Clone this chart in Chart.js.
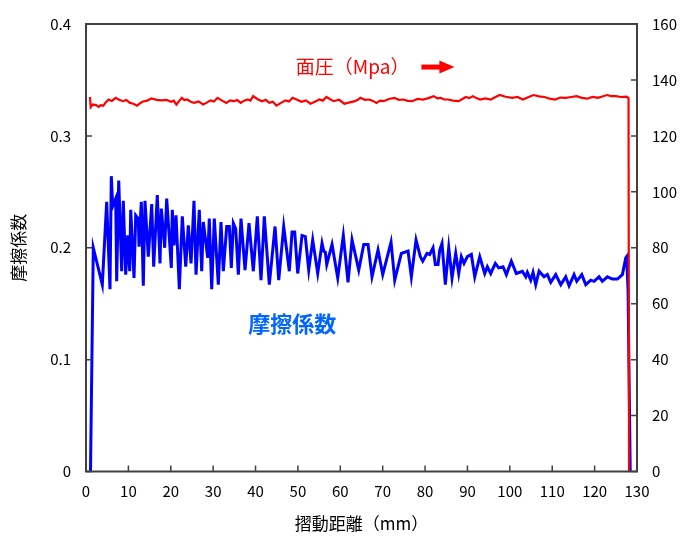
<!DOCTYPE html>
<html lang="ja">
<head>
<meta charset="utf-8">
<title>摩擦係数と面圧</title>
<script src="https://cdn.jsdelivr.net/npm/chart.js@4.4.1/dist/chart.umd.min.js"></script>
<style>
    html, body { margin: 0; padding: 0; background: #fff; }
    #chart { display: block; }
</style>
</head>
<body>
<canvas id="chart" width="683" height="537"></canvas>
<script>
// 摩擦係数 (左軸)
const frictionDistance = [
    1.06, 1.72, 3.85, 4.88, 5.66, 5.97, 6.30, 7.01, 7.24, 7.72,
    8.42, 8.80, 9.37, 9.84, 10.31, 10.55, 11.33, 11.73, 12.34, 12.51,
    13.05, 13.52, 13.92, 14.70, 15.50, 15.97, 16.82, 17.46, 17.77, 18.57,
    19.04, 20.13, 20.36, 20.76, 21.24, 22.02, 22.72, 23.53, 24.14, 24.78,
    25.48, 25.96, 26.73, 27.30, 27.68, 28.72, 29.09, 29.66, 30.27, 31.22,
    31.85, 32.40, 33.20, 33.81, 34.29, 34.76, 35.32, 35.94, 36.57, 37.52,
    38.46, 39.48, 40.42, 41.29, 42.07, 43.25, 44.60, 45.47, 46.65, 47.97,
    48.61, 49.24, 49.95, 50.97, 51.75, 52.55, 53.49, 54.67, 55.69, 56.09,
    56.47, 56.80, 58.05, 59.39, 60.71, 61.82, 62.77, 64.35, 65.53, 66.54,
    67.48, 68.90, 70.01, 71.97, 72.84, 74.40, 75.98, 76.76, 77.87, 78.88,
    79.45, 80.46, 81.10, 81.88, 82.42, 83.06, 83.46, 84.00, 84.78, 85.58,
    86.36, 87.23, 87.94, 88.56, 89.19, 89.97, 90.92, 91.72, 92.90, 94.08,
    94.69, 95.49, 96.58, 97.38, 98.40, 99.18, 100.35, 101.53, 102.95, 103.75,
    104.13, 104.93, 105.47, 106.11, 106.89, 108.07, 108.85, 109.65, 110.83, 112.01,
    113.19, 113.97, 115.15, 115.79, 116.97, 117.91, 119.09, 119.87, 121.05, 121.83,
    123.01, 124.19, 125.37, 126.55, 127.35, 127.54, 127.89, 128.40
];
const frictionValues = [
    0, 0.200, 0.167, 0.241, 0.163, 0.264, 0.237, 0.244, 0.170, 0.260,
    0.179, 0.242, 0.176, 0.211, 0.179, 0.234, 0.173, 0.229, 0.226, 0.201,
    0.241, 0.166, 0.242, 0.192, 0.239, 0.183, 0.247, 0.186, 0.235, 0.200,
    0.244, 0.182, 0.234, 0.202, 0.229, 0.163, 0.228, 0.183, 0.220, 0.186,
    0.242, 0.176, 0.234, 0.179, 0.223, 0.191, 0.226, 0.163, 0.226, 0.167,
    0.223, 0.179, 0.219, 0.219, 0.182, 0.222, 0.217, 0.176, 0.226, 0.180,
    0.222, 0.179, 0.228, 0.171, 0.228, 0.167, 0.219, 0.171, 0.219, 0.179,
    0.214, 0.214, 0.177, 0.211, 0.210, 0.180, 0.207, 0.177, 0.204, 0.197,
    0.196, 0.185, 0.203, 0.173, 0.211, 0.169, 0.207, 0.180, 0.203, 0.203,
    0.174, 0.198, 0.176, 0.205, 0.171, 0.195, 0.197, 0.174, 0.207, 0.192,
    0.188, 0.195, 0.194, 0.200, 0.185, 0.185, 0.198, 0.204, 0.167, 0.200,
    0.173, 0.195, 0.177, 0.192, 0.186, 0.192, 0.194, 0.174, 0.192, 0.177,
    0.183, 0.177, 0.186, 0.182, 0.183, 0.176, 0.188, 0.177, 0.179, 0.174,
    0.178, 0.171, 0.178, 0.167, 0.179, 0.174, 0.176, 0.169, 0.176, 0.167,
    0.174, 0.166, 0.176, 0.170, 0.176, 0.167, 0.171, 0.170, 0.174, 0.170,
    0.174, 0.172, 0.172, 0.176, 0.191, 0.192, 0.162, 0
];

// 面圧 (右軸, MPa)
const pressureDistance = [
    0.94, 1.11, 1.6, 2.36, 3.0, 3.5, 4.06, 4.7, 5.33, 6.1,
    7.01, 7.8, 8.71, 9.5, 10.38, 11.2, 12.06, 12.7, 13.33, 14.4,
    15.43, 16.7, 17.93, 19.0, 20.06, 20.7, 21.33, 22.0, 22.61, 23.2,
    23.86, 24.7, 25.55, 26.6, 27.65, 28.5, 29.35, 30.2, 31.03, 32.1,
    33.13, 34.0, 34.83, 35.7, 36.5, 37.3, 38.2, 38.8, 39.45, 40.5,
    41.55, 42.4, 43.25, 44.1, 44.93, 46.0, 47.05, 47.9, 48.73, 49.8,
    50.83, 51.9, 52.95, 54.0, 55.05, 55.9, 56.73, 57.6, 58.42, 59.7,
    60.95, 62.2, 63.47, 64.1, 64.75, 65.8, 66.85, 67.7, 68.52, 69.4,
    70.22, 71.5, 72.75, 73.8, 74.85, 75.9, 76.95, 78.2, 79.5, 80.8,
    82.02, 82.9, 83.7, 84.5, 85.39, 86.6, 87.92, 88.8, 89.59, 90.4,
    91.29, 92.1, 92.97, 94.2, 95.49, 96.5, 97.59, 99.0, 100.54, 101.8,
    103.09, 104.3, 105.61, 106.9, 108.14, 109.4, 110.67, 111.9, 113.19, 114.5,
    115.72, 117.0, 118.24, 119.5, 120.79, 121.8, 122.89, 123.9, 124.99, 126.2,
    127.51, 128.0, 128.13
];
const pressureValues = [
    133.9, 130.3, 131.2, 131.0, 130.4, 131.0, 130.8, 132.0, 133.0, 132.5,
    133.6, 132.9, 132.4, 132.8, 131.8, 131.5, 130.8, 131.6, 132.2, 132.6,
    133.4, 132.9, 132.7, 132.9, 132.2, 132.6, 131.2, 132.5, 133.6, 132.8,
    133.0, 132.2, 131.8, 132.3, 131.2, 131.9, 132.7, 132.3, 133.6, 132.6,
    131.8, 132.7, 132.4, 132.8, 131.8, 132.6, 133.0, 132.6, 134.2, 133.1,
    132.4, 132.9, 131.8, 132.2, 130.8, 131.8, 132.7, 132.3, 133.6, 132.9,
    132.2, 132.7, 131.5, 132.2, 133.0, 132.6, 133.9, 133.1, 132.4, 132.9,
    131.5, 132.0, 132.4, 132.9, 133.6, 132.9, 133.0, 132.5, 131.8, 132.6,
    132.4, 133.2, 133.6, 132.9, 133.0, 132.5, 132.4, 133.2, 133.0, 133.5,
    134.2, 133.4, 133.6, 133.0, 133.0, 132.6, 132.4, 133.2, 133.9, 133.5,
    134.2, 133.5, 133.0, 133.4, 133.0, 133.8, 134.6, 134.0, 133.6, 133.9,
    133.0, 133.8, 134.6, 134.1, 133.9, 133.3, 133.0, 133.7, 133.6, 133.9,
    134.2, 133.6, 133.3, 133.9, 133.6, 134.1, 134.6, 134.2, 134.2, 133.9,
    134.0, 133.5, 0
];

const fontFamily = '"Noto Sans CJK JP", "Noto Sans", sans-serif';

// 枠線・内向き目盛り・注記を描くプラグイン
const frameAndLabels = {
    id: 'frameAndLabels',
    afterDatasetsDraw(chart) {
        const { ctx, chartArea: a, scales } = chart;
        ctx.save();

        // 枠
        ctx.strokeStyle = '#404040';
        ctx.lineWidth = 2;
        ctx.strokeRect(a.left, a.top, a.right - a.left, a.bottom - a.top);

        // 目盛り (内側)
        ctx.lineWidth = 1.5;
        ctx.beginPath();
        scales.x.ticks.forEach(t => {
            const px = scales.x.getPixelForValue(t.value);
            ctx.moveTo(px, a.bottom);
            ctx.lineTo(px, a.bottom - 6);
        });
        scales.y.ticks.forEach(t => {
            const py = scales.y.getPixelForValue(t.value);
            ctx.moveTo(a.left, py);
            ctx.lineTo(a.left + 6, py);
        });
        scales.y1.ticks.forEach(t => {
            const py = scales.y1.getPixelForValue(t.value);
            ctx.moveTo(a.right, py);
            ctx.lineTo(a.right - 6, py);
        });
        ctx.stroke();

        // 面圧ラベル + 矢印
        const lx = scales.x.getPixelForValue(49.5);
        const ly = scales.y1.getPixelForValue(144.6);
        ctx.font = '19px ' + fontFamily;
        ctx.fillStyle = '#FF0000';
        ctx.textBaseline = 'middle';
        ctx.textAlign = 'left';
        const label = '面圧（Mpa）';
        ctx.fillText(label, lx, ly);
        const ax = lx + ctx.measureText(label).width + 12;
        ctx.fillRect(ax, ly - 2.5, 20, 5);
        ctx.beginPath();
        ctx.moveTo(ax + 18, ly - 6.5);
        ctx.lineTo(ax + 33, ly);
        ctx.lineTo(ax + 18, ly + 6.5);
        ctx.closePath();
        ctx.fill();

        // 摩擦係数ラベル
        const bx = scales.x.getPixelForValue(38.3);
        const by = scales.y.getPixelForValue(0.132);
        ctx.font = 'bold 22px ' + fontFamily;
        ctx.fillStyle = '#0066FF';
        ctx.fillText('摩擦係数', bx, by);

        ctx.restore();
    }
};

const ctx = document.getElementById('chart').getContext('2d');
const chart = new Chart(ctx, {
    type: 'line',
    data: {
        datasets: [
            {
                label: '面圧',
                data: pressureDistance.map((x, i) => ({ x: x, y: pressureValues[i] })),
                yAxisID: 'y1',
                borderColor: '#FF0000',
                borderWidth: 2.2,
                pointRadius: 0,
                tension: 0,
                order: 0
            },
            {
                label: '摩擦係数',
                data: frictionDistance.map((x, i) => ({ x: x, y: frictionValues[i] })),
                yAxisID: 'y',
                borderColor: '#0000FF',
                borderWidth: 3,
                pointRadius: 0,
                tension: 0,
                order: 1
            }
        ]
    },
    options: {
        responsive: false,
        animation: false,
        layout: {
            padding: { top: 18.5, left: 0, right: 0, bottom: 0 }
        },
        plugins: {
            legend: { display: false },
            tooltip: { enabled: false }
        },
        scales: {
            x: {
                type: 'linear',
                min: 0,
                max: 130,
                ticks: {
                    stepSize: 10,
                    color: '#000',
                    padding: 11,
                    maxRotation: 0,
                    font: { family: fontFamily, size: 15 }
                },
                grid: { display: false, drawTicks: false },
                border: { display: false },
                title: {
                    display: true,
                    text: '摺動距離（mm）',
                    color: '#000',
                    padding: { top: 0, bottom: 3 },
                    font: { family: fontFamily, size: 17 }
                },
                afterFit: scale => { scale.height = 65.5; }
            },
            y: {
                position: 'left',
                min: 0,
                max: 0.4,
                ticks: {
                    stepSize: 0.1,
                    color: '#000',
                    padding: 15,
                    font: { family: fontFamily, size: 15 }
                },
                grid: { display: false, drawTicks: false },
                border: { display: false },
                title: {
                    display: true,
                    text: '摩擦係数',
                    color: '#000',
                    padding: { top: 8, bottom: 0 },
                    font: { family: fontFamily, size: 17 }
                },
                afterFit: scale => { scale.width = 86; }
            },
            y1: {
                position: 'right',
                min: 0,
                max: 160,
                ticks: {
                    stepSize: 20,
                    color: '#000',
                    padding: 15,
                    font: { family: fontFamily, size: 15 }
                },
                grid: { display: false, drawTicks: false },
                border: { display: false },
                afterFit: scale => { scale.width = 46; }
            }
        }
    },
    plugins: [frameAndLabels]
});
</script>
</body>
</html>
